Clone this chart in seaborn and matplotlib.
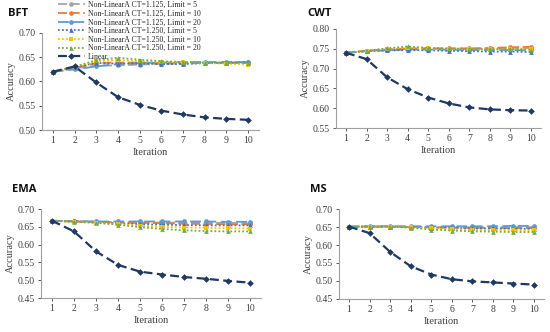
import numpy as np
import pandas as pd
import matplotlib
matplotlib.use("Agg")
import matplotlib.pyplot as plt
import seaborn as sns

sns.set_theme(style="white")
plt.rcParams['font.family'] = ['Liberation Serif', 'DejaVu Serif']

iterations = list(range(1, 11))
series_names = [
    "Non-LinearA CT=1.125, Limit = 5",
    "Non-LinearA CT=1.125, Limit = 10",
    "Non-LinearA CT=1.125, Limit = 20",
    "Non-LinearA CT=1.250, Limit = 5",
    "Non-LinearA CT=1.250, Limit = 10",
    "Non-LinearA CT=1.250, Limit = 20",
    "Linear",
]

bft = [
    [0.620, 0.627, 0.633, 0.633, 0.635, 0.636, 0.637, 0.638, 0.639, 0.640],
    [0.620, 0.628, 0.638, 0.639, 0.639, 0.638, 0.638, 0.638, 0.638, 0.638],
    [0.620, 0.625, 0.631, 0.636, 0.638, 0.639, 0.640, 0.640, 0.640, 0.640],
    [0.620, 0.630, 0.638, 0.637, 0.637, 0.636, 0.636, 0.638, 0.639, 0.639],
    [0.620, 0.630, 0.642, 0.644, 0.642, 0.640, 0.640, 0.638, 0.637, 0.635],
    [0.620, 0.630, 0.644, 0.649, 0.645, 0.642, 0.640, 0.639, 0.639, 0.639],
    [0.620, 0.631, 0.598, 0.568, 0.552, 0.540, 0.532, 0.526, 0.523, 0.521],
]
cwt = [
    [0.740, 0.745, 0.748, 0.750, 0.750, 0.750, 0.750, 0.751, 0.752, 0.752],
    [0.740, 0.745, 0.748, 0.751, 0.751, 0.751, 0.751, 0.752, 0.754, 0.755],
    [0.740, 0.744, 0.746, 0.748, 0.748, 0.748, 0.747, 0.747, 0.747, 0.746],
    [0.740, 0.744, 0.746, 0.747, 0.746, 0.745, 0.744, 0.743, 0.743, 0.742],
    [0.740, 0.745, 0.750, 0.753, 0.751, 0.750, 0.749, 0.749, 0.750, 0.750],
    [0.740, 0.745, 0.751, 0.756, 0.752, 0.751, 0.750, 0.749, 0.749, 0.748],
    [0.740, 0.724, 0.678, 0.648, 0.627, 0.612, 0.602, 0.597, 0.595, 0.594],
]
ema = [
    [0.667, 0.665, 0.664, 0.663, 0.662, 0.662, 0.661, 0.661, 0.661, 0.660],
    [0.667, 0.665, 0.664, 0.662, 0.661, 0.660, 0.659, 0.658, 0.657, 0.657],
    [0.667, 0.666, 0.665, 0.665, 0.665, 0.665, 0.665, 0.665, 0.664, 0.664],
    [0.667, 0.665, 0.663, 0.660, 0.657, 0.656, 0.655, 0.654, 0.654, 0.654],
    [0.667, 0.664, 0.662, 0.658, 0.653, 0.650, 0.648, 0.647, 0.646, 0.645],
    [0.667, 0.664, 0.661, 0.656, 0.649, 0.644, 0.640, 0.638, 0.637, 0.637],
    [0.667, 0.637, 0.581, 0.543, 0.524, 0.516, 0.509, 0.504, 0.498, 0.493],
]
ms = [
    [0.651, 0.651, 0.651, 0.650, 0.649, 0.649, 0.649, 0.649, 0.650, 0.650],
    [0.651, 0.651, 0.651, 0.650, 0.649, 0.648, 0.648, 0.647, 0.647, 0.647],
    [0.651, 0.652, 0.652, 0.652, 0.652, 0.652, 0.652, 0.652, 0.653, 0.653],
    [0.651, 0.651, 0.651, 0.650, 0.648, 0.647, 0.646, 0.646, 0.645, 0.645],
    [0.651, 0.651, 0.651, 0.649, 0.646, 0.644, 0.642, 0.641, 0.641, 0.641],
    [0.651, 0.651, 0.651, 0.648, 0.643, 0.640, 0.638, 0.637, 0.636, 0.636],
    [0.651, 0.633, 0.581, 0.541, 0.518, 0.505, 0.499, 0.496, 0.493, 0.490],
]

panel_titles = ["BFT", "CWT", "EMA", "MS"]
panel_data = [bft, cwt, ema, ms]
ylims = [(0.50, 0.70), (0.55, 0.80), (0.45, 0.70), (0.45, 0.70)]

colors = ["#a5a5a5", "#ed7d31", "#5b9bd5", "#4472c4", "#ffc000", "#70ad47", "#1f3864"]
markers = ["o", "o", "o", "^", "s", "^", "D"]
dashes = [(5, 2), (5, 2), (6, 2.5), (1, 1.2), (1, 1.2), (1, 1.2), (4, 2)]
widths = [1.3, 1.3, 1.3, 1.3, 1.3, 1.3, 1.6]

W, H = 550, 332
fig = plt.figure(figsize=(W / 100, H / 100), dpi=100)

# axes rects in pixels: left, bottom, width, height
rects = [
    (42, 202, 216.7, 97),
    (335.7, 204, 205.6, 99),
    (41, 34, 220, 89),
    (338.7, 33, 205.6, 90),
]
title_pos = [(8, 13), (307, 14), (12, 190), (310, 190)]

for k in range(4):
    l, b, w, h = rects[k]
    ax = fig.add_axes([l / W, b / H, w / W, h / H])
    rows = []
    for i, name in enumerate(series_names):
        for it, v in zip(iterations, panel_data[k][i]):
            rows.append({"Iteration": it, "Accuracy": v, "Series": name})
    df = pd.DataFrame(rows)
    for i, name in enumerate(series_names):
        sub = df[df["Series"] == name]
        sns.lineplot(data=sub, x="Iteration", y="Accuracy", ax=ax,
                     color=colors[i], marker=markers[i], markersize=3.4,
                     markeredgewidth=0, linewidth=widths[i],
                     dashes=dashes[i], label=name if k == 0 else None,
                     legend=False, zorder=3 if i == 6 else 2)
    ax.set_xlim(0.5, 10.5)
    ax.set_ylim(*ylims[k])
    ax.set_xticks(iterations)
    lo, hi = ylims[k]
    yt = np.arange(lo, hi + 1e-9, 0.05)
    ax.set_yticks(yt)
    ax.set_yticklabels([f"{v:.2f}" for v in yt])
    ax.tick_params(axis="both", labelsize=7, length=2.5, width=0.6,
                   colors="#404040", direction="out", pad=2, left=True, bottom=True)
    for s in ["top", "right"]:
        ax.spines[s].set_visible(False)
    for s in ["left", "bottom"]:
        ax.spines[s].set_color("#a0a0a0")
        ax.spines[s].set_linewidth(0.8)
    ax.set_xlabel("Iteration", fontsize=7.5, color="#404040", labelpad=2)
    ax.set_ylabel("Accuracy", fontsize=7.5, color="#404040", labelpad=2)
    tx, ty = title_pos[k]
    fig.text(tx / W, 1 - ty / H, panel_titles[k], fontsize=8, fontweight="bold",
             family=["Open Sans", "DejaVu Sans"], va="center", ha="left", color="#111111")
    if k == 0:
        handles, labels = ax.get_legend_handles_labels()
        fig.legend(handles, labels, loc="upper left",
                   bbox_to_anchor=(57 / W, 1.0), frameon=False,
                   fontsize=5.6, handlelength=3.4, handletextpad=0.4,
                   labelspacing=0.08, borderpad=0.15, borderaxespad=0)

fig.savefig("out.png", dpi=100)
